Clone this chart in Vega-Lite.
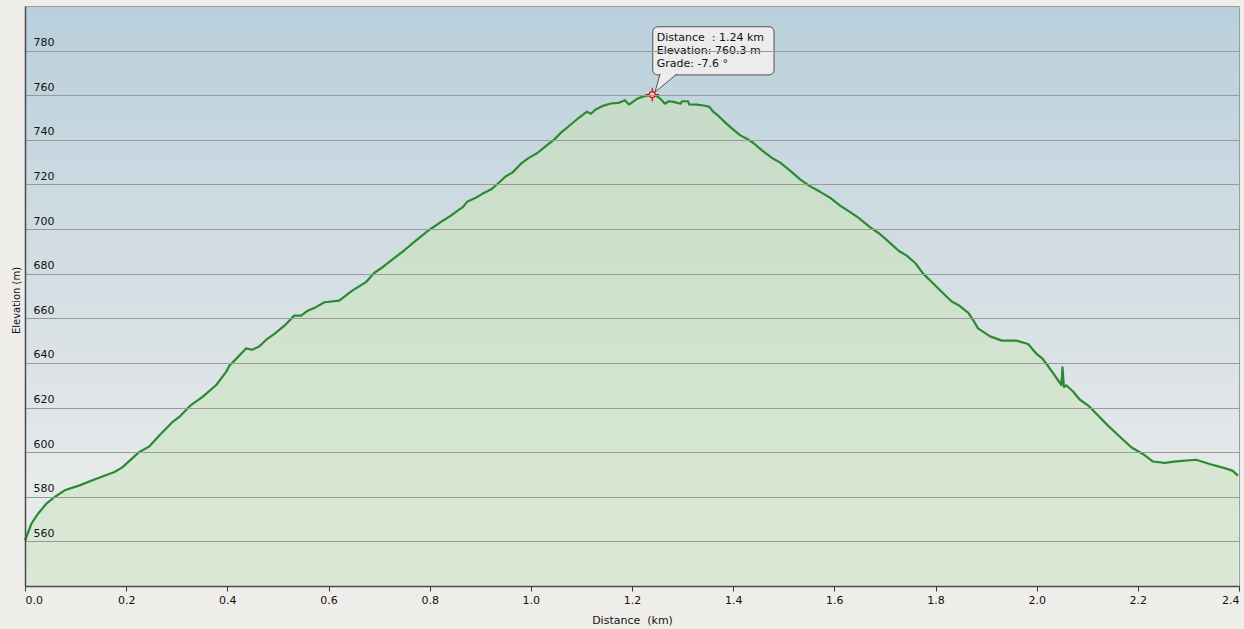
{
  "$schema": "https://vega.github.io/schema/vega-lite/v6.json",
  "width": 1214,
  "height": 580,
  "autosize": "none",
  "padding": {"left": 25, "top": 6, "right": 5, "bottom": 43},
  "background": "#efedea",
  "config": {
    "font": "DejaVu Sans",
    "view": {
      "fill": {"gradient": "linear", "x1": 0, "y1": 0, "x2": 0, "y2": 1,
        "stops": [
          {"offset": 0, "color": "#b9d0dc"},
          {"offset": 0.5, "color": "#d6dfe4"},
          {"offset": 0.8, "color": "#e5e9ea"},
          {"offset": 1, "color": "#eceeee"}
        ]},
      "stroke": "#9c9c9c",
      "strokeWidth": 1
    }
  },
  "datasets": {
    "profile": [
      {"d": 0, "e": 560.4}, {"d": 0.0126, "e": 567.9}, {"d": 0.0257, "e": 572.4}, {"d": 0.0422, "e": 576.9},
      {"d": 0.0586, "e": 579.9}, {"d": 0.0784, "e": 582.9}, {"d": 0.108, "e": 585.1}, {"d": 0.141, "e": 588.1},
      {"d": 0.177, "e": 591.1}, {"d": 0.193, "e": 593.3}, {"d": 0.226, "e": 600.1}, {"d": 0.246, "e": 602.6},
      {"d": 0.266, "e": 607.6}, {"d": 0.292, "e": 613.6}, {"d": 0.305, "e": 615.8}, {"d": 0.328, "e": 621.1},
      {"d": 0.351, "e": 624.8}, {"d": 0.378, "e": 630.1}, {"d": 0.398, "e": 636.1}, {"d": 0.404, "e": 638.7},
      {"d": 0.417, "e": 641.7}, {"d": 0.437, "e": 646.5}, {"d": 0.449, "e": 645.9}, {"d": 0.463, "e": 647.4},
      {"d": 0.477, "e": 650.4}, {"d": 0.493, "e": 653.0}, {"d": 0.513, "e": 656.7}, {"d": 0.532, "e": 661.2},
      {"d": 0.546, "e": 661.2}, {"d": 0.559, "e": 663.4}, {"d": 0.575, "e": 665.0}, {"d": 0.592, "e": 667.2},
      {"d": 0.621, "e": 667.9}, {"d": 0.634, "e": 670.2}, {"d": 0.647, "e": 672.4}, {"d": 0.674, "e": 676.2},
      {"d": 0.690, "e": 680.3}, {"d": 0.707, "e": 682.9}, {"d": 0.726, "e": 686.3}, {"d": 0.750, "e": 690.5},
      {"d": 0.775, "e": 695.3}, {"d": 0.799, "e": 699.6}, {"d": 0.819, "e": 702.7}, {"d": 0.842, "e": 706.0},
      {"d": 0.858, "e": 708.7}, {"d": 0.865, "e": 709.7}, {"d": 0.874, "e": 712.2}, {"d": 0.891, "e": 714.0},
      {"d": 0.904, "e": 715.8}, {"d": 0.921, "e": 717.7}, {"d": 0.934, "e": 720.2}, {"d": 0.950, "e": 723.6},
      {"d": 0.963, "e": 725.2}, {"d": 0.980, "e": 729.2}, {"d": 0.996, "e": 731.9}, {"d": 1.013, "e": 734.1},
      {"d": 1.029, "e": 737.1}, {"d": 1.046, "e": 740.1}, {"d": 1.059, "e": 743.1}, {"d": 1.075, "e": 746.1},
      {"d": 1.095, "e": 749.9}, {"d": 1.111, "e": 752.6}, {"d": 1.119, "e": 751.7}, {"d": 1.128, "e": 753.6},
      {"d": 1.141, "e": 755.1}, {"d": 1.158, "e": 756.3}, {"d": 1.174, "e": 756.6}, {"d": 1.186, "e": 757.8},
      {"d": 1.194, "e": 755.8}, {"d": 1.210, "e": 758.4}, {"d": 1.223, "e": 759.5}, {"d": 1.240, "e": 760.3},
      {"d": 1.250, "e": 759.5}, {"d": 1.256, "e": 758.4}, {"d": 1.265, "e": 756.2}, {"d": 1.273, "e": 757.3},
      {"d": 1.282, "e": 757.0}, {"d": 1.296, "e": 756.2}, {"d": 1.299, "e": 757.3}, {"d": 1.311, "e": 757.3},
      {"d": 1.313, "e": 755.9}, {"d": 1.328, "e": 755.8}, {"d": 1.342, "e": 755.4}, {"d": 1.353, "e": 754.8},
      {"d": 1.361, "e": 752.5}, {"d": 1.371, "e": 750.7}, {"d": 1.385, "e": 747.6}, {"d": 1.398, "e": 745.0},
      {"d": 1.414, "e": 742.0}, {"d": 1.427, "e": 740.5}, {"d": 1.440, "e": 738.6}, {"d": 1.457, "e": 735.3},
      {"d": 1.476, "e": 732.0}, {"d": 1.493, "e": 729.8}, {"d": 1.513, "e": 726.1}, {"d": 1.533, "e": 722.2},
      {"d": 1.549, "e": 719.6}, {"d": 1.572, "e": 716.7}, {"d": 1.592, "e": 714.0}, {"d": 1.612, "e": 710.4},
      {"d": 1.630, "e": 707.8}, {"d": 1.648, "e": 705.0}, {"d": 1.671, "e": 700.8}, {"d": 1.690, "e": 697.8},
      {"d": 1.710, "e": 693.8}, {"d": 1.727, "e": 690.3}, {"d": 1.743, "e": 688.1}, {"d": 1.760, "e": 684.8},
      {"d": 1.776, "e": 679.9}, {"d": 1.793, "e": 676.2}, {"d": 1.812, "e": 671.9}, {"d": 1.832, "e": 667.5},
      {"d": 1.845, "e": 666.0}, {"d": 1.865, "e": 662.4}, {"d": 1.875, "e": 659.0}, {"d": 1.884, "e": 655.5},
      {"d": 1.908, "e": 651.9}, {"d": 1.931, "e": 650.0}, {"d": 1.960, "e": 650.0}, {"d": 1.983, "e": 648.5},
      {"d": 2.000, "e": 644.0}, {"d": 2.010, "e": 642.3}, {"d": 2.023, "e": 638.5}, {"d": 2.029, "e": 636.5},
      {"d": 2.049, "e": 630.1}, {"d": 2.051, "e": 638.0}, {"d": 2.054, "e": 629.2}, {"d": 2.059, "e": 629.9},
      {"d": 2.072, "e": 627.2}, {"d": 2.085, "e": 623.6}, {"d": 2.102, "e": 620.9}, {"d": 2.118, "e": 617.2},
      {"d": 2.141, "e": 611.9}, {"d": 2.164, "e": 607.0}, {"d": 2.187, "e": 602.2}, {"d": 2.210, "e": 599.2},
      {"d": 2.230, "e": 595.8}, {"d": 2.253, "e": 595.2}, {"d": 2.276, "e": 595.9}, {"d": 2.315, "e": 596.6},
      {"d": 2.342, "e": 594.7}, {"d": 2.366, "e": 593.2}, {"d": 2.387, "e": 591.7}, {"d": 2.398, "e": 589.5}
    ]
  },
  "encoding": {
    "x": {
      "field": "d", "type": "quantitative",
      "scale": {"domain": [0, 2.4], "nice": false, "zero": false},
      "axis": {
        "title": "Distance\u00a0 (km)",
        "values": [0, 0.2, 0.4, 0.6, 0.8, 1.0, 1.2, 1.4, 1.6, 1.8, 2.0, 2.2, 2.4],
        "format": ".1f",
        "grid": false,
        "tickSize": 5, "tickColor": "#333333", "tickWidth": 1,
        "labelPadding": 3, "labelFlush": true, "labelFontSize": 11, "labelColor": "#111111",
        "domainColor": "#4a4a4a", "domainWidth": 1.5,
        "titleFontSize": 11, "titleFontWeight": "normal", "titleColor": "#111111",
        "titleY": 34, "titleBaseline": "middle",
        "zindex": 1
      }
    },
    "y": {
      "field": "e", "type": "quantitative",
      "scale": {"domain": [540, 800], "nice": false, "zero": false},
      "axis": {
        "title": "Elevation (m)",
        "values": [560, 580, 600, 620, 640, 660, 680, 700, 720, 740, 760, 780],
        "grid": true, "gridColor": "#9a9a9a", "gridWidth": 1,
        "tickSize": 0,
        "labelAlign": "left", "labelPadding": -8, "labelBaseline": "alphabetic", "labelOffset": -5,
        "labelFontSize": 11, "labelColor": "#111111",
        "domainColor": "#4a4a4a", "domainWidth": 1.5,
        "titleFontSize": 10, "titleFontWeight": "normal", "titleColor": "#111111",
        "titleX": -9, "titleY": 294, "titleBaseline": "middle", "titleAngle": -90,
        "zindex": 1
      }
    }
  },
  "layer": [
    {
      "data": {"name": "profile"},
      "mark": {
        "type": "area",
        "fill": {"gradient": "linear", "x1": 0, "y1": 0, "x2": 0, "y2": 1,
          "stops": [
            {"offset": 0, "color": "#c6dcc8"},
            {"offset": 0.5, "color": "#d1e3ce"},
            {"offset": 1, "color": "#dae9d5"}
          ]}
      },
      "encoding": {"y2": {"datum": 540}}
    },
    {
      "data": {"name": "profile"},
      "mark": {"type": "line", "stroke": "#2a8a2e", "strokeWidth": 2.2, "strokeJoin": "round"}
    },
    {
      "data": {"values": [{"d": 1.241, "d2": 1.4808, "e": 790.7, "e2": 769.1}]},
      "mark": {"type": "rect", "fill": "#ececec", "stroke": "#505050", "strokeWidth": 1, "cornerRadius": 5},
      "encoding": {"x2": {"field": "d2"}, "y2": {"field": "e2"}}
    },
    {
      "data": {"values": [
        {"d": 1.2556, "e": 769.6, "o": 1},
        {"d": 1.2455, "e": 761.4, "o": 2},
        {"d": 1.2892, "e": 769.6, "o": 3}
      ]},
      "mark": {"type": "line", "fill": "#ececec", "stroke": "#505050", "strokeWidth": 1},
      "encoding": {"order": {"field": "o", "type": "quantitative"}}
    },
    {
      "data": {"values": [
        {"d": 1.2488, "e": 784.3, "t": "Distance\u00a0 : 1.24 km"},
        {"d": 1.2488, "e": 778.4, "t": "Elevation: 760.3 m"},
        {"d": 1.2488, "e": 772.8, "t": "Grade: -7.6 °"}
      ]},
      "mark": {"type": "text", "align": "left", "baseline": "alphabetic", "fontSize": 11, "color": "#111111"},
      "encoding": {"text": {"field": "t"}}
    },
    {
      "data": {"values": [{"d": 1.24, "e": 760.3}]},
      "mark": {"type": "point", "shape": "M-1,0H-0.3M0.3,0H1M0,-1V-0.3M0,0.3V1", "size": 190, "filled": false, "stroke": "#d01818", "strokeWidth": 1.3, "opacity": 1}
    },
    {
      "data": {"values": [{"d": 1.24, "e": 760.3}]},
      "mark": {"type": "point", "shape": "circle", "size": 36, "filled": true, "fill": "#f6c4c4", "stroke": "#d01818", "strokeWidth": 1.3, "opacity": 1}
    }
  ]
}
